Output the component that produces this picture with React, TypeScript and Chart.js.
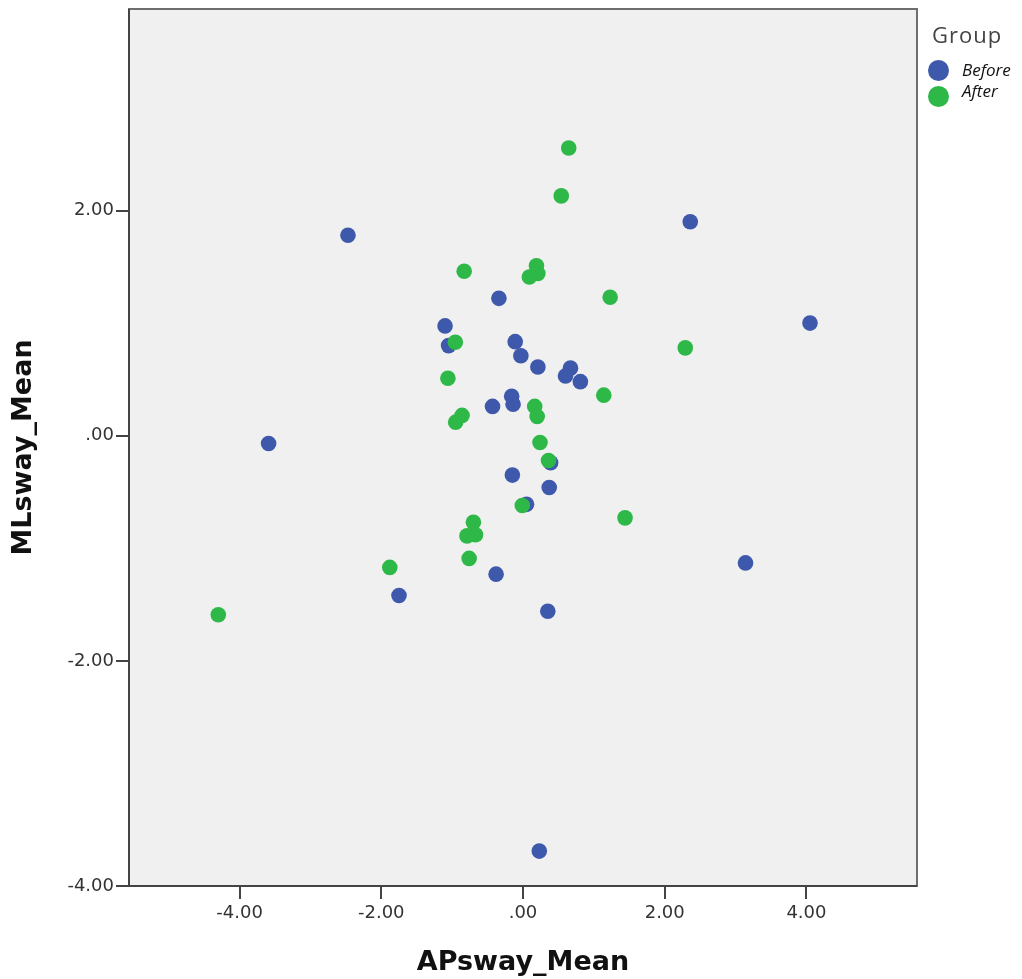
import React, { useEffect, useRef } from "react";
import { Chart, registerables } from "chart.js";

Chart.register(...registerables);

// Before group (APsway_Mean, MLsway_Mean)
const beforeX = [-2.47, -3.59, -1.75, 2.36, 4.05, 3.14, 0.23, -0.34, -1.10, -1.05, -0.11, -0.03, 0.21, 0.67, 0.60, 0.81, -0.43, -0.16, -0.14, -0.15, 0.37, 0.39, 0.05, -0.38, 0.35];
const beforeY = [1.78, -0.07, -1.42, 1.90, 1.00, -1.13, -3.69, 1.22, 0.975, 0.80, 0.835, 0.71, 0.61, 0.60, 0.53, 0.48, 0.26, 0.35, 0.28, -0.35, -0.46, -0.24, -0.61, -1.23, -1.56];

// After group
const afterX = [0.645, 0.54, -0.83, 0.19, 0.21, 0.09, 1.23, 2.29, -0.955, -1.06, 1.14, -0.86, -0.95, 0.165, 0.20, 0.24, 0.36, -0.01, 1.44, -0.70, -0.67, -0.79, -0.76, -1.88, -4.30];
const afterY = [2.555, 2.13, 1.46, 1.51, 1.44, 1.41, 1.23, 0.78, 0.83, 0.51, 0.36, 0.18, 0.12, 0.26, 0.17, -0.06, -0.22, -0.62, -0.73, -0.77, -0.88, -0.89, -1.09, -1.17, -1.59];

const xTicks = [-4, -2, 0, 2, 4];
const yTicks = [-4, -2, 0, 2];
const groupLabels = ["Before", "After"];
const groupColors = ["#3E58AC", "#2EB848"];

const fmt = (v: number) => (v === 0 ? ".00" : v.toFixed(2));

const frame = {
  id: "frame",
  beforeDatasetsDraw(chart: any) {
    const { ctx, chartArea: a } = chart;
    ctx.save();
    ctx.fillStyle = "#F0F0F0";
    ctx.fillRect(a.left, a.top, a.right - a.left, a.bottom - a.top);
    ctx.restore();
  },
  afterDraw(chart: any) {
    const { ctx, chartArea: a } = chart;
    ctx.save();
    ctx.strokeStyle = "#6E6E6E";
    ctx.lineWidth = 2;
    ctx.strokeRect(a.left, a.top, a.right - a.left, a.bottom - a.top);
    ctx.strokeStyle = "#444";
    ctx.beginPath();
    ctx.moveTo(a.left, a.top);
    ctx.lineTo(a.left, a.bottom);
    ctx.lineTo(a.right, a.bottom);
    ctx.stroke();
    ctx.restore();
  },
};

export default function App() {
  const ref = useRef<HTMLCanvasElement>(null);
  useEffect(() => {
    const mk = (xs: number[], ys: number[]) => xs.map((x, i) => ({ x, y: ys[i] }));
    const chart = new Chart(ref.current!, {
      type: "scatter",
      data: {
        datasets: [
          {
            label: groupLabels[0],
            data: mk(beforeX, beforeY),
            backgroundColor: groupColors[0],
            borderWidth: 0,
            pointRadius: 7.8,
            order: 1,
          },
          {
            label: groupLabels[1],
            data: mk(afterX, afterY),
            backgroundColor: groupColors[1],
            borderWidth: 0,
            pointRadius: 7.8,
            order: 0,
          },
        ],
      },
      options: {
        animation: false,
        responsive: false,
        layout: { padding: { top: 9, right: 105, left: 0, bottom: 0 } },
        plugins: { legend: { display: false }, tooltip: { enabled: false } },
        scales: {
          x: {
            type: "linear",
            min: -5.56,
            max: 5.56,
            afterBuildTicks: (s: any) => {
              s.ticks = xTicks.map((v) => ({ value: v }));
            },
            afterFit: (s: any) => {
              s.height = 93;
              s.paddingLeft = 0;
              s.paddingRight = 0;
            },
            border: { display: false },
            grid: { drawOnChartArea: false, drawTicks: true, tickLength: 13, color: "#444", lineWidth: 2 },
            ticks: {
              callback: (v: any) => fmt(Number(v)),
              color: "#333",
              font: { family: "DejaVu Sans", size: 18 },
              padding: 4,
              maxRotation: 0,
            },
            title: {
              display: true,
              text: "APsway_Mean",
              color: "#111",
              font: { family: "DejaVu Sans", size: 27, weight: "bold" },
              padding: { top: 12, bottom: 0 },
            },
          },
          y: {
            type: "linear",
            min: -4,
            max: 3.79,
            afterBuildTicks: (s: any) => {
              s.ticks = yTicks.map((v) => ({ value: v }));
            },
            afterFit: (s: any) => {
              s.width = 129;
              s.paddingTop = 0;
              s.paddingBottom = 0;
            },
            border: { display: false },
            grid: { drawOnChartArea: false, drawTicks: true, tickLength: 13, color: "#444", lineWidth: 2 },
            ticks: {
              callback: (v: any) => fmt(Number(v)),
              color: "#333",
              font: { family: "DejaVu Sans", size: 18 },
              padding: 2,
            },
            title: {
              display: true,
              text: "MLsway_Mean",
              color: "#111",
              font: { family: "DejaVu Sans", size: 27, weight: "bold" },
              padding: { top: 8, bottom: 0 },
            },
          },
        },
      },
      plugins: [frame],
    } as any);
    return () => chart.destroy();
  }, []);

  return (
    <div style={{ position: "absolute", left: 0, top: 0, width: 1022, height: 979, background: "#fff" }}>
      <canvas ref={ref} width={1022} height={979} style={{ display: "block" }} />
      <div
        style={{
          position: "absolute",
          left: 932,
          top: 20,
          font: "22px 'Open Sans'",
          color: "#444",
          lineHeight: "28px",
          letterSpacing: "1px",
        }}
      >
        Group
      </div>
      {groupLabels.map((g, i) => (
        <React.Fragment key={g}>
          <div
            style={{
              position: "absolute",
              left: 928,
              top: 60 + i * 25.5,
              width: 21,
              height: 21,
              borderRadius: "50%",
              background: groupColors[i],
            }}
          />
          <div
            style={{
              position: "absolute",
              left: 962,
              top: 58 + i * 21,
              font: "italic 17px 'Open Sans'",
              color: "#111",
              lineHeight: "23px",
            }}
          >
            {g}
          </div>
        </React.Fragment>
      ))}
    </div>
  );
}
